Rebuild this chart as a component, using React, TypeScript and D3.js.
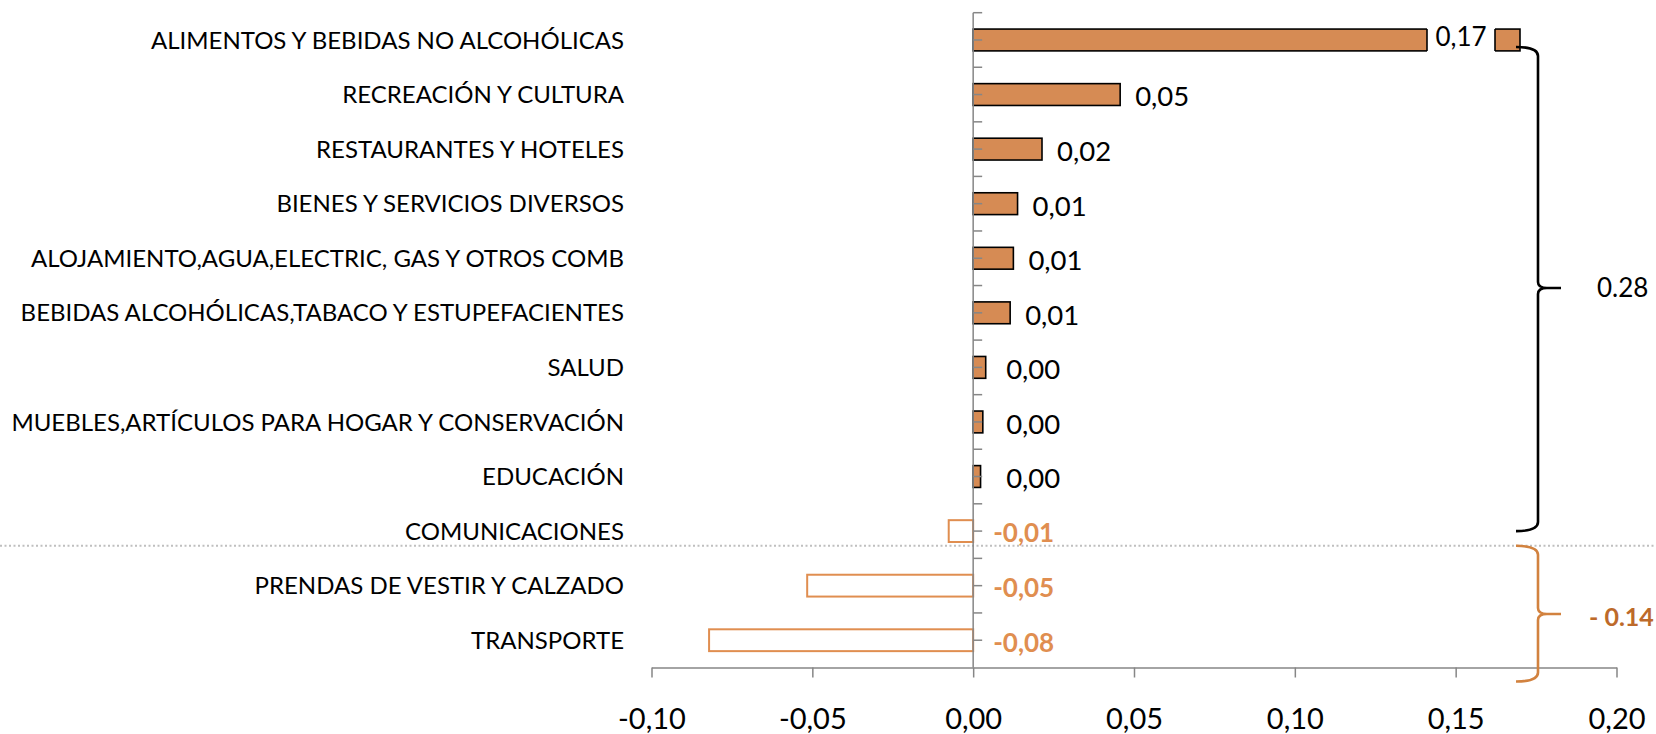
import React, { useEffect, useRef } from 'react'
import * as d3 from 'd3'

// categories top to bottom
const categories = [
  'ALIMENTOS Y BEBIDAS NO ALCOHÓLICAS',
  'RECREACIÓN Y CULTURA',
  'RESTAURANTES Y HOTELES',
  'BIENES Y SERVICIOS DIVERSOS',
  'ALOJAMIENTO,AGUA,ELECTRIC, GAS Y OTROS COMB',
  'BEBIDAS ALCOHÓLICAS,TABACO Y ESTUPEFACIENTES',
  'SALUD',
  'MUEBLES,ARTÍCULOS PARA HOGAR Y CONSERVACIÓN',
  'EDUCACIÓN',
  'COMUNICACIONES',
  'PRENDAS DE VESTIR Y CALZADO',
  'TRANSPORTE',
]
const values = [0.17, 0.0457, 0.0214, 0.0138, 0.0125, 0.0115, 0.0039, 0.003, 0.0023, -0.0076, -0.0516, -0.0821]
const xTicks = [-0.1, -0.05, 0, 0.05, 0.1, 0.15, 0.2]

const esLocale = d3.formatLocale({ decimal: ',', thousands: '.', grouping: [3], currency: ['', ''], minus: '-' })
const fmt = esLocale.format('.2f')

const FONT = 'Lato, sans-serif'
const BAR_FILL = '#D68B54'
const NEG_COLOR = '#E08E50'
const TOTAL_NEG = '#BD6A2A'
const AXIS = '#868686'

function Chart() {
  const ref = useRef<SVGSVGElement | null>(null)

  useEffect(() => {
    draw()
  }, [])

  const draw = () => {
    const width = 1656
    const height = 734
    const svg = d3.select(ref.current)
    svg.selectAll('*').remove()
    svg.attr('width', width).attr('height', height)

    const x = d3.scaleLinear().domain([-0.1, 0.2]).range([651.5, 1616.5])
    const y = d3.scaleBand().domain(categories).range([12.7, 667.5])
    const bw = y.bandwidth()
    const barH = bw * 0.4
    const yc = (c: string) => (y(c) as number) + bw / 2
    const x0 = x(0)
    const axisY = y.range()[1]

    // dotted separator between positive and negative groups
    const sepY = yc(categories[9]) + bw * 0.27
    svg.append('line')
      .attr('x1', 0).attr('x2', width)
      .attr('y1', sepY).attr('y2', sepY)
      .attr('stroke', '#BFBFBF')
      .attr('stroke-width', 2)
      .attr('stroke-dasharray', '2,2.5')

    // bars
    const data = categories.map((c, i) => ({ c, v: values[i] }))
    svg.append('g')
      .selectAll('rect')
      .data(data)
      .join('rect')
      .attr('x', d => Math.min(x(d.v), x0))
      .attr('y', d => yc(d.c) - barH / 2)
      .attr('width', d => Math.abs(x(d.v) - x0))
      .attr('height', barH)
      .attr('fill', d => d.v >= 0 ? BAR_FILL : '#fff')
      .attr('stroke', d => d.v >= 0 ? '#000' : NEG_COLOR)
      .attr('stroke-width', d => d.v >= 0 ? 1.6 : 2)

    // x axis
    const xAxis = svg.append('g')
      .attr('transform', `translate(0,${axisY})`)
      .call(d3.axisBottom(x).tickValues(xTicks).tickSize(10).tickSizeOuter(0).tickFormat(d => fmt(d as number)))
    xAxis.select('.domain').attr('stroke', AXIS).attr('stroke-width', 1.5)
    xAxis.selectAll('.tick line').attr('stroke', AXIS).attr('stroke-width', 1.5)
    xAxis.selectAll('.tick text')
      .attr('y', 41)
      .attr('fill', '#000')
      .style('font-family', FONT)
      .style('font-size', '29px')

    // vertical zero axis with half-band ticks
    svg.append('line')
      .attr('x1', x0).attr('x2', x0)
      .attr('y1', y.range()[0]).attr('y2', axisY)
      .attr('stroke', AXIS).attr('stroke-width', 1.5)
    const halfTicks = d3.range(0, categories.length * 2).map(i => y.range()[0] + i * bw / 2)
    svg.append('g')
      .selectAll('line')
      .data(halfTicks)
      .join('line')
      .attr('x1', x0).attr('x2', x0 + 9)
      .attr('y1', d => d).attr('y2', d => d)
      .attr('stroke', AXIS).attr('stroke-width', 1.5)

    // category labels
    svg.append('g')
      .selectAll('text')
      .data(categories)
      .join('text')
      .attr('x', 624)
      .attr('y', d => yc(d))
      .attr('dy', '0.36em')
      .attr('text-anchor', 'end')
      .style('font-family', FONT)
      .style('font-size', '24px')
      .text(d => d)

    // value labels
    const labels = svg.append('g')
    data.forEach((d, i) => {
      if (i === 0) {
        // broken first bar with the label inside
        const cx = x(d.v) - 59
        const half = 34
        labels.append('rect')
          .attr('x', cx - half).attr('y', yc(d.c) - barH / 2 - 2)
          .attr('width', half * 2).attr('height', barH + 4)
          .attr('fill', '#fff')
        ;[cx - half, cx + half].forEach(lx => {
          labels.append('line')
            .attr('x1', lx).attr('x2', lx)
            .attr('y1', yc(d.c) - barH / 2).attr('y2', yc(d.c) + barH / 2)
            .attr('stroke', '#000').attr('stroke-width', 1.6)
        })
        labels.append('text')
          .attr('x', cx).attr('y', yc(d.c) - 3)
          .attr('dy', '0.36em')
          .attr('text-anchor', 'middle')
          .style('font-family', FONT)
          .style('font-size', '26px')
          .text(fmt(d.v))
      } else if (d.v >= 0) {
        labels.append('text')
          .attr('x', Math.max(x(d.v) + 15, x0 + 33)).attr('y', yc(d.c) + 2)
          .attr('dy', '0.36em')
          .style('font-family', FONT)
          .style('font-size', '27.5px')
          .text(fmt(d.v))
      } else {
        labels.append('text')
          .attr('x', x0 + 20).attr('y', yc(d.c) + 2)
          .attr('dy', '0.36em')
          .attr('fill', NEG_COLOR)
          .style('font-family', FONT)
          .style('font-size', '26px')
          .style('font-weight', 'bold')
          .text(fmt(d.v))
      }
    })

    // braces with group totals
    const pos = values.filter(v => v >= 0)
    const neg = values.filter(v => v < 0)
    const xl = x(values[0]) - 4
    const xv = xl + 22
    const xt = xv + 23
    const brace = (top: number, mid: number, bottom: number, color: string) => {
      svg.append('path')
        .attr('d', `M${xl},${top} Q${xv},${top} ${xv},${top + 9} L${xv},${mid - 6} Q${xv},${mid} ${xv + 9},${mid} L${xt},${mid} M${xv + 9},${mid} Q${xv},${mid} ${xv},${mid + 6} L${xv},${bottom - 9} Q${xv},${bottom} ${xl},${bottom}`)
        .attr('fill', 'none')
        .attr('stroke', color)
        .attr('stroke-width', 2.6)
    }
    const bTop = yc(categories[0]) + 7
    const bBot = yc(categories[9])
    const bMid = 288
    brace(bTop, bMid, bBot, '#000')
    svg.append('text')
      .attr('x', xt + 36).attr('y', bMid)
      .attr('dy', '0.36em')
      .style('font-family', FONT)
      .style('font-size', '26px')
      .text(d3.format('.2f')(d3.sum(pos)))

    const oTop = sepY
    const oBot = axisY + 14
    const oMid = 614
    brace(oTop, oMid, oBot, '#D2823F')
    svg.append('text')
      .attr('x', xt + 28).attr('y', oMid + 3)
      .attr('dy', '0.36em')
      .attr('fill', TOTAL_NEG)
      .style('font-family', FONT)
      .style('font-size', '25px')
      .style('font-weight', 'bold')
      .text('- ' + d3.format('.2f')(Math.abs(d3.sum(neg))))
  }

  return <svg ref={ref} style={{ display: 'block' }}></svg>
}

export default function App() {
  return (
    <div style={{ position: 'absolute', left: 0, top: 0, width: 1656, height: 734, background: '#fff', overflow: 'hidden' }}>
      <Chart />
    </div>
  )
}
